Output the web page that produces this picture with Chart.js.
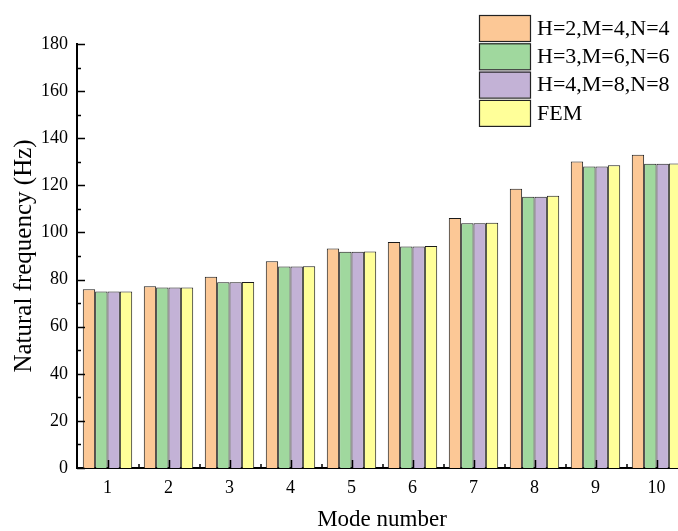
<!DOCTYPE html>
<html>
<head>
<meta charset="utf-8">
<title>Natural frequency</title>
<script src="https://cdn.jsdelivr.net/npm/chart.js@4.4.1/dist/chart.umd.min.js"></script>
<style>
  html, body { margin: 0; padding: 0; background: #fff; overflow: hidden; }
  #wrap { width: 690px; height: 531px; }
</style>
</head>
<body>
<div id="wrap"><canvas id="freqChart" width="690" height="531"></canvas></div>
<script>
// Mode numbers on the x axis
const modes = ['1', '2', '3', '4', '5', '6', '7', '8', '9', '10'];

// Natural frequencies (Hz) for each model
const seriesLabels = ['H=2,M=4,N=4', 'H=3,M=6,N=6', 'H=4,M=8,N=8', 'FEM'];
const freqH2 = [75.9, 77.2, 81.2, 87.8, 93.2, 95.9, 106.1, 118.5, 130.1, 133.0];
const freqH3 = [74.9, 76.6, 78.9, 85.5, 91.8, 94.0, 103.9, 115.2, 128.0, 129.2];
const freqH4 = [74.9, 76.6, 78.9, 85.5, 91.8, 94.0, 103.9, 115.2, 128.0, 129.2];
const freqFEM = [74.9, 76.6, 79.0, 85.7, 91.9, 94.2, 104.1, 115.6, 128.5, 129.3];

// Y axis range
const yMin = 0;
const yMax = 180;
const yStep = 20;

const fillColors = ['#fcc896', '#a0d89e', '#c3b2d6', '#ffff99'];
const serifFont = "'Liberation Serif', 'Times New Roman', serif";

// Inward tick marks on both axes (major + minor)
const tickMarks = {
  id: 'tickMarks',
  afterDatasetsDraw(chart) {
    const ctx = chart.ctx;
    const x = chart.scales.x;
    const y = chart.scales.y;
    const left = chart.chartArea.left;
    const bottom = chart.chartArea.bottom;
    ctx.save();
    ctx.strokeStyle = '#000';
    ctx.lineWidth = 1.5;
    ctx.beginPath();
    // y axis: major every 20, minor in between
    for (let v = yMin; v <= yMax; v += yStep / 2) {
      const py = Math.round(y.getPixelForValue(v)) + 0.5;
      const len = (v % yStep === 0) ? 8 : 4;
      ctx.moveTo(left, py);
      ctx.lineTo(left + len, py);
    }
    // x axis: major at each mode, minor between groups
    const half = (x.getPixelForValue(1) - x.getPixelForValue(0)) / 2;
    modes.forEach((m, i) => {
      const px = Math.round(x.getPixelForValue(i)) + 0.5;
      ctx.moveTo(px, bottom);
      ctx.lineTo(px, bottom - 8);
      if (i > 0) {
        const pm = Math.round(px - half);
        ctx.moveTo(pm, bottom);
        ctx.lineTo(pm, bottom - 4);
      }
    });
    ctx.stroke();
    ctx.restore();
  }
};

// Legend drawn in the upper right of the plot
const boxLegend = {
  id: 'boxLegend',
  afterDraw(chart) {
    const ctx = chart.ctx;
    const bx = 479, by = 15, bw = 51, bh = 26, pitch = 28.3;
    ctx.save();
    ctx.font = '22px ' + serifFont;
    ctx.textBaseline = 'middle';
    ctx.textAlign = 'left';
    chart.data.datasets.forEach((ds, i) => {
      const top = by + i * pitch;
      ctx.fillStyle = ds.backgroundColor;
      ctx.fillRect(bx, top, bw, bh);
      ctx.strokeStyle = '#222';
      ctx.lineWidth = 1.2;
      ctx.strokeRect(bx + 0.5, top + 0.5, bw, bh);
      ctx.fillStyle = '#000';
      ctx.fillText(ds.label, bx + bw + 7, top + bh / 2 + 1);
    });
    ctx.restore();
  }
};

document.addEventListener('DOMContentLoaded', function() {
  const ctx = document.getElementById('freqChart').getContext('2d');
  const values = [freqH2, freqH3, freqH4, freqFEM];

  new Chart(ctx, {
    type: 'bar',
    data: {
      labels: modes,
      datasets: seriesLabels.map((label, i) => ({
        label: label,
        data: values[i],
        backgroundColor: fillColors[i],
        borderColor: '#1a1a1a',
        borderWidth: 1,
        categoryPercentage: 0.81,
        barPercentage: 1.0
      }))
    },
    options: {
      responsive: false,
      animation: false,
      layout: { padding: { left: 0, top: 44, right: 3, bottom: 0 } },
      plugins: {
        legend: { display: false },
        tooltip: { enabled: false }
      },
      scales: {
        x: {
          grid: { display: false, drawTicks: false },
          border: { display: true, color: '#000', width: 2 },
          ticks: {
            color: '#000',
            padding: 9,
            maxRotation: 0,
            font: { family: serifFont, size: 18 }
          },
          title: {
            display: true,
            text: 'Mode number',
            color: '#000',
            padding: { top: 0, bottom: 0 },
            font: { family: serifFont, size: 23, lineHeight: 1 }
          },
          afterFit(scale) { scale.height = 63; }
        },
        y: {
          min: yMin,
          max: yMax,
          grid: { display: false, drawTicks: false },
          border: { display: true, color: '#000', width: 2 },
          ticks: {
            stepSize: yStep,
            color: '#000',
            padding: 9,
            font: { family: serifFont, size: 18 }
          },
          title: {
            display: true,
            text: 'Natural frequency (Hz)',
            color: '#000',
            padding: { top: 9, bottom: 0 },
            font: { family: serifFont, size: 25 }
          },
          afterFit(scale) { scale.width = 77; }
        }
      }
    },
    plugins: [tickMarks, boxLegend]
  });
});
</script>
</body>
</html>
